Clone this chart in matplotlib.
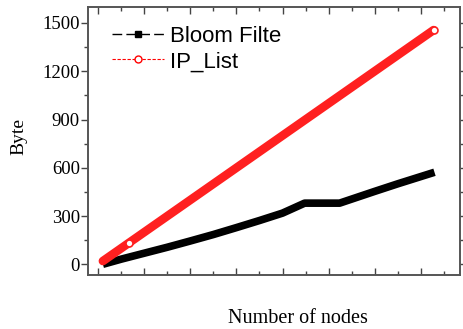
import matplotlib
matplotlib.use("Agg")
import matplotlib.pyplot as plt
from matplotlib.lines import Line2D
from matplotlib.ticker import MultipleLocator

# Values
bloom_nodes = [10, 50, 100, 150, 200, 250, 300, 350, 400, 448, 524, 600, 650, 730]
bloom_bytes = [0, 32, 69, 106, 145, 185, 228, 272, 318, 380, 380, 453, 500, 572]

ip_nodes = [10, 67, 728]
ip_bytes = [20, 134, 1456]

y_ticks = [0, 300, 600, 900, 1200, 1500]

plt.rcParams["font.family"] = "Liberation Serif"

fig = plt.figure(figsize=(4.64, 3.29), dpi=100)
ax = fig.add_axes([0.19, 0.164, 0.801, 0.815])

ax.plot(bloom_nodes, bloom_bytes, color="black", lw=5.5, solid_capstyle="butt",
        solid_joinstyle="round")
ax.plot(ip_nodes, ip_bytes, color="#ff2020", lw=6.2, solid_capstyle="round",
        marker="o", markersize=5, markerfacecolor="white",
        markeredgecolor="#ff2020", markeredgewidth=1.2, markevery=[1, 2])

ax.set_xlim(-22, 785)
ax.set_ylim(-67, 1600)
ax.set_yticks(y_ticks)
ax.yaxis.set_minor_locator(MultipleLocator(150))
ax.xaxis.set_major_locator(MultipleLocator(100))
ax.xaxis.set_minor_locator(MultipleLocator(50))
ax.set_xticklabels([])

ax.tick_params(axis="x", which="both", direction="in", top=True, colors="#444444")
ax.tick_params(axis="x", which="major", length=5, width=1)
ax.tick_params(axis="x", which="minor", length=3, width=1)
ax.tick_params(axis="y", which="both", direction="out", right=True, colors="#444444",
               labelcolor="black", labelsize=13.5, pad=1)
ax.tick_params(axis="y", which="major", length=5, width=1)
ax.tick_params(axis="y", which="minor", length=3, width=1)
for s in ax.spines.values():
    s.set_color("#555555")
    s.set_linewidth(1.4)

# legend
handles = [
    Line2D([], [], color="black", lw=1, ls=(0, (7, 3)), marker="s", markersize=5),
    Line2D([], [], color="red", lw=0.8, ls=(0, (3, 1.5)), marker="o", markersize=5,
           markerfacecolor="white", markeredgecolor="red"),
]
ax.legend(handles, ["Bloom Filte", "IP_List"], loc="upper left",
          bbox_to_anchor=(0.033, 0.971), frameon=False, handlelength=2.35,
          handletextpad=0.27, labelspacing=0.2, borderaxespad=0.3,
          borderpad=0.2, prop={"family": "Liberation Sans", "size": 16})

fig.text(0.041, 0.585, "Byte", rotation=90, fontsize=14, ha="center", va="center")
fig.text(0.642, 0.033, "Number of nodes", fontsize=14.5, ha="center", va="center")

fig.savefig("out.png", dpi=100)
